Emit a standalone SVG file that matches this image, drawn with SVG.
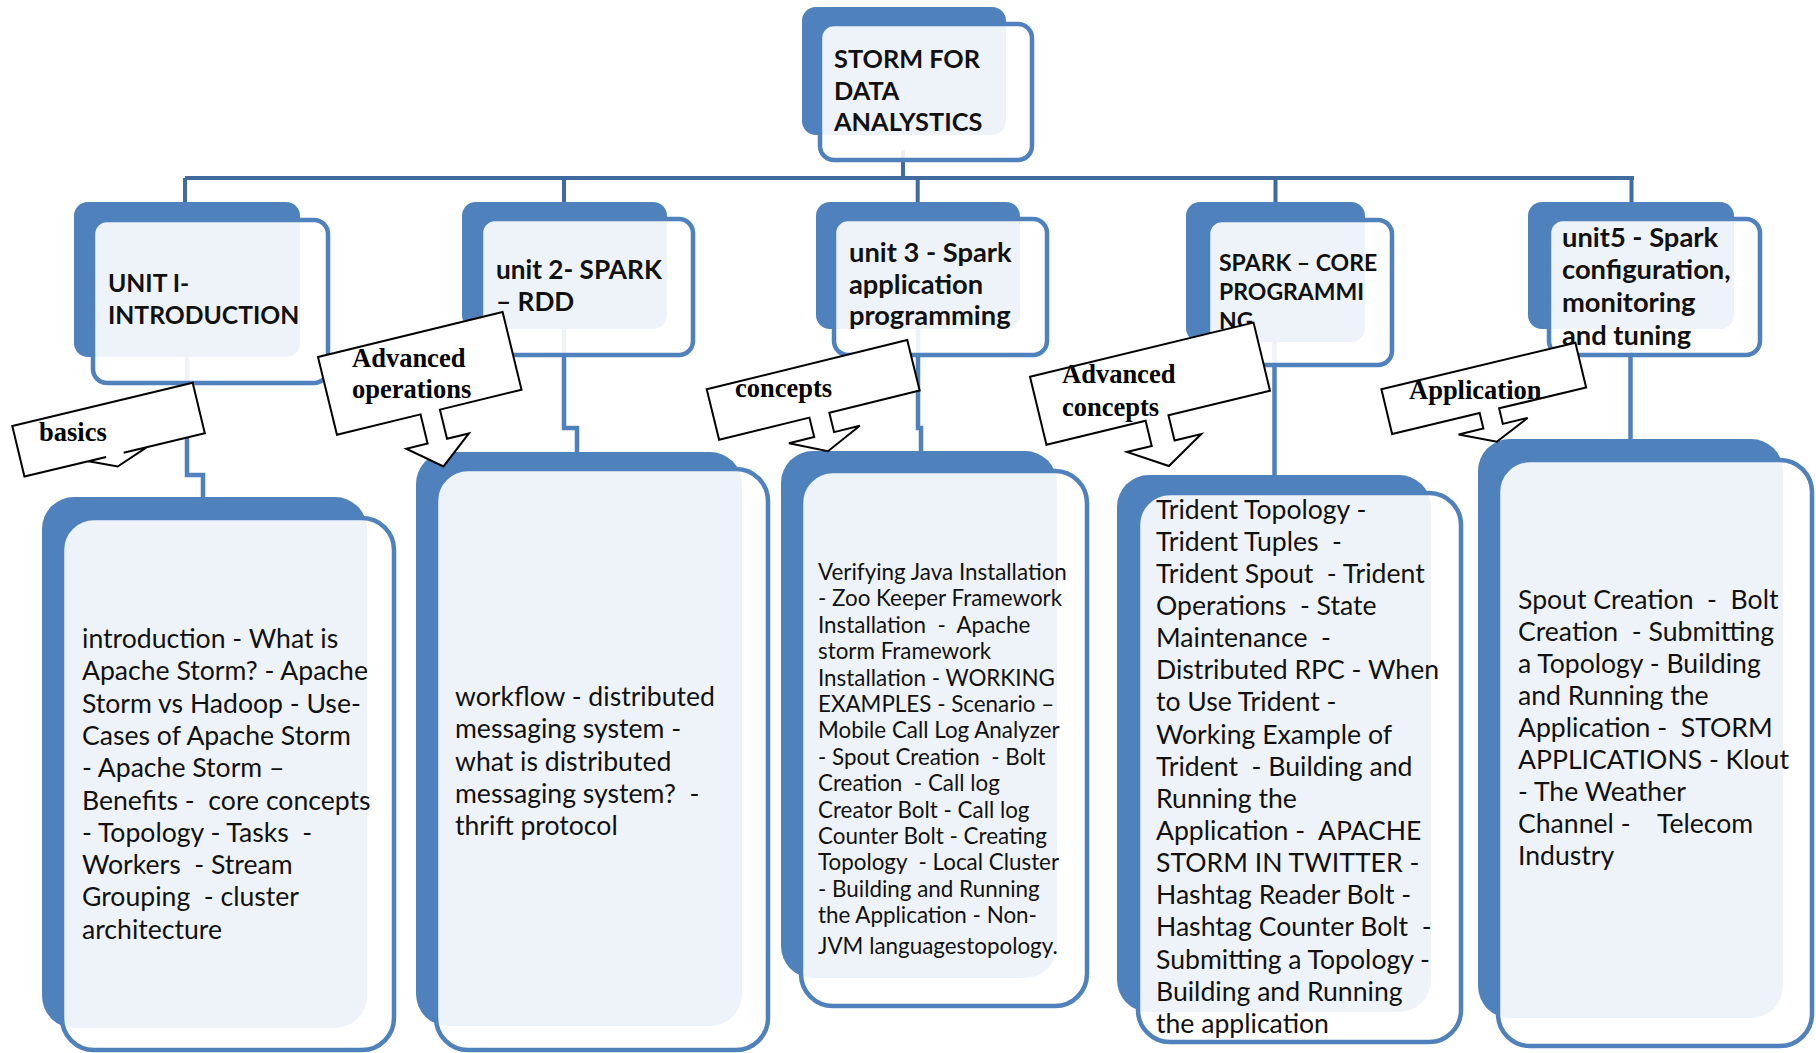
<svg xmlns="http://www.w3.org/2000/svg" width="1816" height="1053" viewBox="0 0 1816 1053">
<defs>
<style>
.back{fill:#4F81BD}
.front{fill:#fff;fill-opacity:0.9;stroke:#4F81BD;stroke-width:4.5}
.hd{font-family:Lato,"Liberation Sans",sans-serif;font-weight:bold;font-size:26.5px;fill:#111}
.bd{font-family:Lato,"Liberation Sans",sans-serif;font-size:26.6px;fill:#111;white-space:pre}
.sm{font-size:22.4px}
.co{fill:#fff;stroke:#000;stroke-width:2;stroke-linejoin:miter}
.ct{font-family:"Liberation Serif","Times New Roman",serif;font-weight:bold;font-size:26.5px;fill:#000}
.ln{fill:none;stroke:#4F81BD;stroke-width:4.5}
.ln2{fill:none;stroke:#3F6B9F;stroke-width:4}
</style>
<clipPath id="clipAC"><polygon transform="translate(1030,376.7) rotate(-13.6)" points="0,0 230,0 230,70 0,70"/></clipPath>
</defs>
<rect width="1816" height="1053" fill="#fff"/>
<g id="connectors">
<path class="ln2" d="M903,150 V178"/>
<path class="ln2" stroke-width="5" d="M185,178 H1634"/>
<path class="ln2" d="M185,178 V203 M564,178 V203 M917.7,178 V203 M1275.5,178 V203 M1631.5,178 V203"/>
<path class="ln" d="M187,357 V475 H203 V498"/>
<path class="ln" d="M564,329 V428 H577 V453"/>
<path class="ln" d="M918,329 V428 H921 V452"/>
<path class="ln" d="M1274.5,342 V476"/>
<path class="ln" d="M1630.5,329 V440"/>
</g>
<g id="root">
<rect class="back" x="802" y="7" width="204" height="128" rx="14"/>
<rect class="front" x="820" y="24" width="212" height="136" rx="14"/>
<text class="hd" style="font-size:25.3px"><tspan x="834" y="68">STORM FOR</tspan><tspan x="834" y="100">DATA</tspan><tspan x="834" y="131">ANALYSTICS</tspan></text>
</g>
<g id="unit1">
<rect class="back" x="74" y="202" width="226" height="155" rx="14"/>
<rect class="front" x="93" y="220" width="235" height="163" rx="14"/>
<text class="hd" style="font-size:24.7px"><tspan x="108" y="292">UNIT I-</tspan><tspan x="108" y="324">INTRODUCTION</tspan></text>
</g>
<g id="unit2">
<rect class="back" x="462" y="202" width="205" height="127" rx="14"/>
<rect class="front" x="481" y="219" width="212" height="136" rx="14"/>
<text class="hd" style="font-size:26.2px"><tspan x="496" y="279">unit 2- SPARK</tspan><tspan x="496" y="311">– RDD</tspan></text>
</g>
<g id="unit3">
<rect class="back" x="816" y="202" width="204" height="127" rx="14"/>
<rect class="front" x="834" y="219" width="213" height="136" rx="14"/>
<text class="hd" style="font-size:27.3px"><tspan x="849" y="262">unit 3 - Spark</tspan><tspan x="849" y="294">application</tspan><tspan x="849" y="325">programming</tspan></text>
</g>
<g id="unit4">
<rect class="back" x="1186" y="202" width="179" height="140" rx="14"/>
<rect class="front" x="1208" y="220" width="184" height="145" rx="14"/>
<text class="hd" style="font-size:23px"><tspan x="1219" y="271">SPARK – CORE</tspan><tspan x="1219" y="300">PROGRAMMI</tspan><tspan x="1219" y="329">NG</tspan></text>
</g>
<g id="unit5">
<rect class="back" x="1528" y="202" width="206" height="127" rx="14"/>
<rect class="front" x="1549" y="219" width="211" height="136" rx="14"/>
<text class="hd" style="font-size:27.3px"><tspan x="1562" y="247">unit5 - Spark</tspan><tspan x="1562" y="279">configuration,</tspan><tspan x="1562" y="312">monitoring</tspan><tspan x="1562" y="345">and tuning</tspan></text>
</g>
<g id="topics1">
<rect class="back" x="42" y="497" width="325" height="531" rx="32"/>
<rect class="front" x="62" y="518" width="332" height="532" rx="32"/>
<text class="bd"><tspan x="82" y="648">introduction - What is</tspan><tspan x="82" y="680.3">Apache Storm? - Apache</tspan><tspan x="82" y="712.6">Storm vs Hadoop - Use-</tspan><tspan x="82" y="744.9">Cases of Apache Storm</tspan><tspan x="82" y="777.2">- Apache Storm –</tspan><tspan x="82" y="809.5">Benefits -  core concepts</tspan><tspan x="82" y="841.8">- Topology - Tasks  -</tspan><tspan x="82" y="874.1">Workers  - Stream</tspan><tspan x="82" y="906.4">Grouping  - cluster</tspan><tspan x="82" y="938.7">architecture</tspan></text>
</g>
<g id="topics2">
<rect class="back" x="416" y="452" width="326" height="574" rx="32"/>
<rect class="front" x="436" y="469" width="332" height="581" rx="32"/>
<text class="bd"><tspan x="455" y="706">workflow - distributed</tspan><tspan x="455" y="738.3">messaging system -</tspan><tspan x="455" y="770.5">what is distributed</tspan><tspan x="455" y="802.8">messaging system?  -</tspan><tspan x="455" y="835">thrift protocol</tspan></text>
</g>
<g id="topics3">
<rect class="back" x="781" y="451" width="276" height="527" rx="32"/>
<rect class="front" x="801" y="471" width="286" height="535" rx="32"/>
<text class="bd sm"><tspan x="818" y="580">Verifying Java Installation</tspan><tspan x="818" y="606.4">- Zoo Keeper Framework</tspan><tspan x="818" y="632.8">Installation  -  Apache</tspan><tspan x="818" y="659.2">storm Framework</tspan><tspan x="818" y="685.6">Installation - WORKING</tspan><tspan x="818" y="712">EXAMPLES - Scenario –</tspan><tspan x="818" y="738.4">Mobile Call Log Analyzer</tspan><tspan x="818" y="764.8">- Spout Creation  - Bolt</tspan><tspan x="818" y="791.2">Creation  - Call log</tspan><tspan x="818" y="817.6">Creator Bolt - Call log</tspan><tspan x="818" y="844">Counter Bolt - Creating</tspan><tspan x="818" y="870.4">Topology  - Local Cluster</tspan><tspan x="818" y="896.8">- Building and Running</tspan><tspan x="818" y="923.2">the Application - Non-</tspan><tspan x="818" y="954">JVM languagestopology.</tspan></text>
</g>
<g id="topics4">
<rect class="back" x="1117" y="475" width="314" height="537" rx="32"/>
<rect class="front" x="1138" y="493" width="323" height="549" rx="32"/>
<text class="bd"><tspan x="1156" y="518.5">Trident Topology -</tspan><tspan x="1156" y="550.6">Trident Tuples  -</tspan><tspan x="1156" y="582.8">Trident Spout  - Trident</tspan><tspan x="1156" y="615">Operations  - State</tspan><tspan x="1156" y="647.1">Maintenance  -</tspan><tspan x="1156" y="679.2">Distributed RPC - When</tspan><tspan x="1156" y="711.4">to Use Trident -</tspan><tspan x="1156" y="743.5">Working Example of</tspan><tspan x="1156" y="775.7">Trident  - Building and</tspan><tspan x="1156" y="807.8">Running the</tspan><tspan x="1156" y="840">Application -  APACHE</tspan><tspan x="1156" y="872.1">STORM IN TWITTER -</tspan><tspan x="1156" y="904.3">Hashtag Reader Bolt -</tspan><tspan x="1156" y="936.4">Hashtag Counter Bolt  -</tspan><tspan x="1156" y="968.6">Submitting a Topology -</tspan><tspan x="1156" y="1000.7">Building and Running</tspan><tspan x="1156" y="1032.9">the application</tspan></text>
</g>
<g id="topics5">
<rect class="back" x="1478" y="439" width="305" height="579" rx="32"/>
<rect class="front" x="1498" y="460" width="314" height="586" rx="32"/>
<text class="bd"><tspan x="1518" y="609">Spout Creation  -  Bolt</tspan><tspan x="1518" y="641">Creation  - Submitting</tspan><tspan x="1518" y="673">a Topology - Building</tspan><tspan x="1518" y="705">and Running the</tspan><tspan x="1518" y="737">Application -  STORM</tspan><tspan x="1518" y="769">APPLICATIONS - Klout</tspan><tspan x="1518" y="801">- The Weather</tspan><tspan x="1518" y="833">Channel -    Telecom</tspan><tspan x="1518" y="865">Industry</tspan></text>
</g>
<g id="callout-basics">
<polygon class="co" transform="translate(12.3,426) rotate(-13.5)" points="0,0 185.5,0 185.5,52 102,52 126,52 93,64 66,52 84,52 0,52"/>
<text class="ct" x="39" y="441">basics</text>
</g>
<g id="callout-advanced-operations">
<polygon class="co" transform="translate(318,357) rotate(-13.7)" points="0,0 190,0 190,80 106,80 106,110 128.5,110 96,136 64,110 86,110 86,80 0,80"/>
<text class="ct"><tspan x="352" y="367">Advanced</tspan><tspan x="352" y="398">operations</tspan></text>
</g>
<g id="callout-concepts">
<polygon class="co" transform="translate(706.7,389.3) rotate(-13.8)" points="0,0 206.5,0 206.5,52 113.5,52 113.5,72 140,72 103,89 67,72 93,72 93,52 0,52"/>
<text class="ct" x="735" y="397">concepts</text>
</g>
<g id="callout-advanced-concepts">
<polygon class="co" transform="translate(1030,376.7) rotate(-13.6)" points="0,0 230,0 230,70 125.5,70 125.5,96 153,96 114,119.5 76.5,96 102,96 102,70 0,70"/>
<text class="ct" x="1062" y="383">Advanced</text>
<text class="ct" x="1062" y="416" clip-path="url(#clipAC)">concepts</text>
</g>
<g id="callout-application">
<polygon class="co" transform="translate(1381.4,389.3) rotate(-13.5)" points="0,0 199.5,0 199.5,46 110,46 110,62 135.5,62 100,78 64.5,62 90,62 90,46 0,46"/>
<text class="ct" x="1409" y="399">Application</text>
</g>
</svg>
